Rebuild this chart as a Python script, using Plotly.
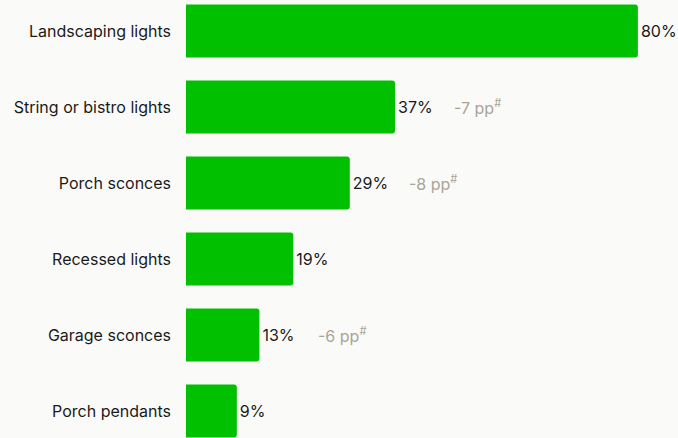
import plotly.graph_objects as go

categories = [
    "Landscaping lights",
    "String or bistro lights",
    "Porch sconces",
    "Recessed lights",
    "Garage sconces",
    "Porch pendants",
]
shares = [80, 37, 29, 19, 13, 9]
changes = [None, -7, -8, None, -6, None]

GREEN = "#00c000"
BG = "#fafaf9"
TEXT = "#1a1a1a"
MUTED = "#aaa597"
FONT = "Inter"

fig = go.Figure(
    go.Bar(
        x=shares,
        y=categories,
        orientation="h",
        marker=dict(color=GREEN, line=dict(width=0)),
        width=0.70,
        text=[f"{v}%" for v in shares],
        textposition="outside",
        textfont=dict(family=FONT, size=16, color=TEXT),
        cliponaxis=False,
        hoverinfo="skip",
    )
)

# change in percentage points, drawn to the right of the value label
for cat, val, chg in zip(categories, shares, changes):
    if chg is None:
        continue
    fig.add_annotation(
        x=val,
        y=cat,
        xref="x",
        yref="y",
        text=f"{chg} pp<sup>#</sup>",
        showarrow=False,
        xanchor="left",
        xshift=57,
        font=dict(family=FONT, size=16, color=MUTED),
    )

fig.update_layout(
    width=678,
    height=438,
    margin=dict(l=186, r=0, t=0, b=0),
    paper_bgcolor=BG,
    plot_bgcolor=BG,
    barcornerradius=3,
    showlegend=False,
    xaxis=dict(
        range=[0, 87.1],
        visible=False,
        showgrid=False,
        zeroline=False,
    ),
    yaxis=dict(
        type="category",
        categoryorder="array",
        categoryarray=categories,
        range=[5.355, -0.408],
        showgrid=False,
        zeroline=False,
        showline=False,
        ticks="",
        ticklabelstandoff=14,
        tickfont=dict(family=FONT, size=16, color=TEXT),
    ),
)

fig.write_html("out.html")
